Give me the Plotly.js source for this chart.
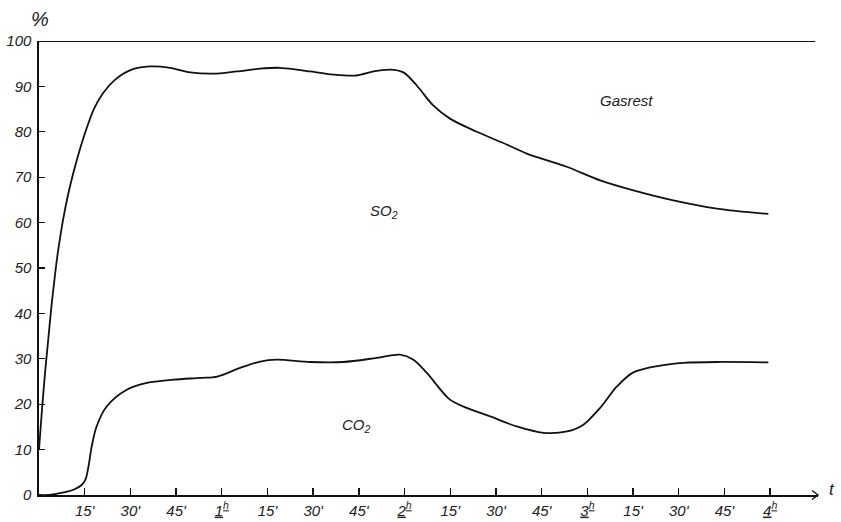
<!DOCTYPE html>
<html>
<head>
<meta charset="utf-8">
<script src="https://cdn.plot.ly/plotly-3.0.1.min.js"></script>
<style>html,body{margin:0;padding:0;background:#fff;}#chart{width:841px;height:522px;}</style>
</head>
<body>
<div id="chart"></div>
<script>
// time in minutes, values in %
const so2T = [0, 1, 2, 3, 4, 5, 6, 7, 8, 10, 12.5, 15, 18, 21, 25, 30, 36.4, 43.0, 49.6, 57.2, 64.9, 72.5, 79.1, 84.6, 89.0, 96.6, 104.3, 109.8, 115.2, 119.6, 124.0, 129.4, 134.9, 143.7, 153.5, 160.1, 173.2, 184.2, 195.1, 208.2, 222.5, 239.4];
const so2V = [10, 19, 27, 34, 41, 47, 52.5, 57, 61, 67.5, 74, 79.5, 85, 88.5, 91.5, 93.6, 94.4, 94.1, 93.1, 92.8, 93.3, 93.9, 94.1, 93.7, 93.3, 92.6, 92.4, 93.3, 93.7, 93.1, 90.2, 85.8, 82.9, 80.0, 77.2, 75.2, 72.3, 69.3, 67.1, 64.9, 63.1, 61.9];
const co2T = [0, 3, 6, 9, 11.5, 14, 15.3, 16.3, 17.3, 18.9, 22.2, 28.8, 35.4, 44.1, 52.9, 58.5, 66.0, 72.6, 78.0, 89.0, 99.9, 110.9, 118.5, 122.9, 127.3, 134.9, 140.4, 148.1, 156.8, 165.6, 173.3, 178.7, 184.2, 189.7, 195.1, 203.9, 211.5, 222.5, 239.4];
const co2V = [0, 0, 0.3, 0.7, 1.2, 2.2, 3.5, 6.5, 10.7, 15.1, 19.5, 23.2, 24.7, 25.4, 25.8, 26.1, 28.0, 29.4, 29.8, 29.3, 29.3, 30.2, 30.9, 29.8, 26.9, 21.0, 19.2, 17.3, 15.1, 13.7, 14.0, 15.5, 19.2, 23.9, 27.0, 28.5, 29.1, 29.3, 29.2];
const gasT = [0, 254.8];
const gasV = [100, 100];

const xTickVals = [15, 30, 45, 60, 75, 90, 105, 120, 135, 150, 165, 180, 195, 210, 225, 240];
const xTickText = ["15'", "30'", "45'", "<u>1<sup>h</sup></u>", "15'", "30'", "45'", "<u>2<sup>h</sup></u>", "15'", "30'", "45'", "<u>3<sup>h</sup></u>", "15'", "30'", "45'", "<u>4<sup>h</sup></u>"];
const yTickVals = [0, 10, 20, 30, 40, 50, 60, 70, 80, 90, 100];

const labelText = ["Gasrest", "SO<sub>2</sub>", "CO<sub>2</sub>"];
const labelT = [192.7, 113.3, 104.1];
const labelV = [86.9, 62.5, 15.3];

const fontFam = "Liberation Sans, Arial, sans-serif";
const lineStyle = {color: "#111", width: 1.8, shape: "spline", smoothing: 0.9};

const traces = [
  {x: so2T, y: so2V, mode: "lines", line: lineStyle, hoverinfo: "skip"},
  {x: co2T, y: co2V, mode: "lines", line: lineStyle, hoverinfo: "skip"},
  {x: gasT, y: gasV, mode: "lines", line: {color: "#111", width: 1.8}, hoverinfo: "skip"}
];

const annotations = labelText.map((t, i) => ({
  x: labelT[i], y: labelV[i], xref: "x", yref: "y", text: t, showarrow: false,
  xanchor: "center", yanchor: "middle",
  font: {family: fontFam, size: 15, color: "#222", style: "italic"}
}));
annotations.push({x: 0.001, y: 1.048, xref: "paper", yref: "paper", text: "%", showarrow: false,
  xanchor: "center", yanchor: "middle",
  font: {family: fontFam, size: 20, color: "#222", style: "italic"}});
annotations.push({x: 1.018, y: 0.012, xref: "paper", yref: "paper", text: "t", showarrow: false,
  xanchor: "center", yanchor: "middle",
  font: {family: fontFam, size: 17, color: "#222", style: "italic"}});

const layout = {
  width: 841, height: 522,
  margin: {l: 39, r: 23, t: 40.5, b: 26.5},
  paper_bgcolor: "#fff", plot_bgcolor: "#fff",
  showlegend: false,
  xaxis: {
    range: [0, 255.7], showgrid: false, zeroline: false,
    showline: true, linecolor: "#111", linewidth: 1.6,
    ticks: "inside", ticklen: 7, tickwidth: 1.4, tickcolor: "#111",
    tickvals: xTickVals, ticktext: xTickText,
    tickfont: {family: fontFam, size: 15, color: "#222", style: "italic"},
    ticklabelstandoff: 1
  },
  yaxis: {
    range: [0, 100], showgrid: false, zeroline: false,
    showline: true, linecolor: "#111", linewidth: 1.6,
    ticks: "inside", ticklen: 6, tickwidth: 1.2, tickcolor: "#111",
    tickvals: yTickVals,
    tickfont: {family: fontFam, size: 15, color: "#222", style: "italic"},
    ticklabelstandoff: 3
  },
  shapes: [{
    type: "path", xref: "paper", yref: "paper",
    path: "M 0.9923,0.0099 L 1,0 L 0.9923,-0.0099",
    line: {color: "#111", width: 1.4}
  }],
  annotations: annotations
};

Plotly.newPlot("chart", traces, layout, {staticPlot: true});
</script>
</body>
</html>
